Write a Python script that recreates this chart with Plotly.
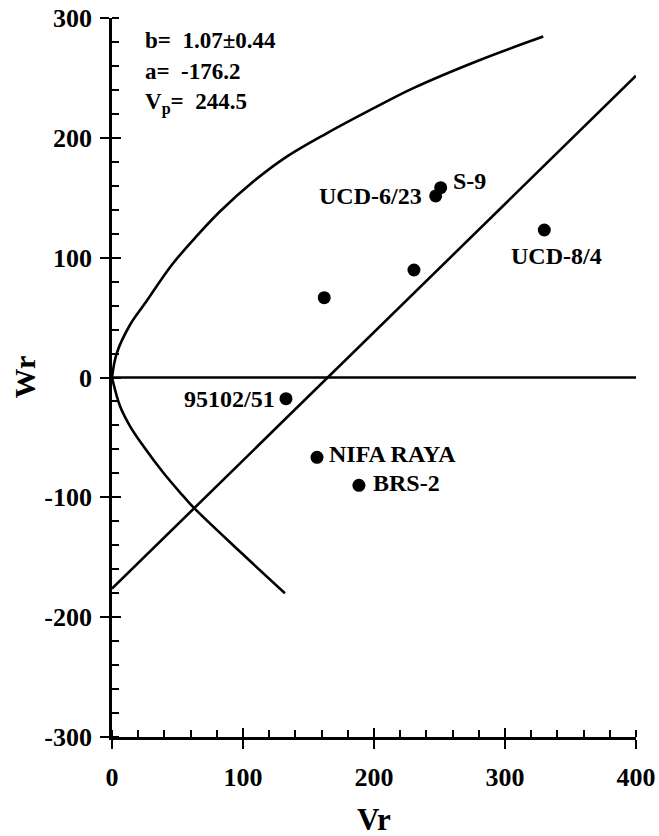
import plotly.graph_objects as go

# Genotype points (Vr, Wr)
vr = [132.8, 156.5, 188.5, 162.0, 230.5, 247.1, 250.9, 330.0]
wr = [-17.7, -66.6, -90.0, 66.6, 89.7, 151.5, 158.4, 123.1]
names = ["95102/51", "NIFA RAYA", "BRS-2", "", "", "UCD-6/23", "S-9", "UCD-8/4"]

# Limiting parabola
par_up_x = [0, 3.6, 13.7, 25.2, 45.6, 63.4, 82.4, 107.9, 133.4, 163.9, 204.6, 230.0, 280.9, 329.2]
par_up_y = [0, 20.2, 43.8, 61.9, 93.9, 116.5, 138.5, 163.5, 184.3, 203.8, 227.5, 241.5, 265.0, 284.5]
par_lo_x = [0, 6.1, 13.7, 23.9, 39.2, 53.2, 62.0, 96.4, 132.0]
par_lo_y = [0, -23.8, -40.5, -57.2, -79.5, -97.5, -108.2, -144.0, -180.0]

# Regression line Wr = a + b*Vr
b_coef = 1.07
a_coef = -176.2
reg_x = [0, 400]
reg_y = [a_coef + b_coef * v for v in reg_x]

zero_x = [0, 400]
zero_y = [0, 0]

x_ticks = [0, 100, 200, 300, 400]
x_ticktext = ["0", "100", "200", "300", "400"]
y_ticks = [-300, -200, -100, 0, 100, 200, 300]
y_ticktext = ["-300", "-200", "-100", "0", "100", "200", "300"]

FONT = "Liberation Serif"
LW = 2.6

fig = go.Figure()
for xs, ys in [(par_up_x, par_up_y), (par_lo_x, par_lo_y)]:
    fig.add_trace(go.Scatter(x=xs, y=ys, mode="lines",
                             line=dict(color="black", width=LW, shape="spline", smoothing=1.0),
                             showlegend=False))
fig.add_trace(go.Scatter(x=reg_x, y=reg_y, mode="lines",
                         line=dict(color="black", width=LW), showlegend=False))
fig.add_trace(go.Scatter(x=zero_x, y=zero_y, mode="lines",
                         line=dict(color="black", width=LW), showlegend=False))
fig.add_trace(go.Scatter(x=vr, y=wr, mode="markers",
                         marker=dict(color="black", size=13), showlegend=False))
# invisible trace for overlay axes
fig.add_trace(go.Scatter(x=[0], y=[0], xaxis="x2", yaxis="y2", mode="markers",
                         marker=dict(opacity=0), showlegend=False, hoverinfo="skip"))

# label placement offsets (pixels)
label_opts = {
    "95102/51": dict(xanchor="right", xshift=-9, yshift=0),
    "NIFA RAYA": dict(xanchor="left", xshift=10, yshift=3),
    "BRS-2": dict(xanchor="left", xshift=12, yshift=2),
    "UCD-6/23": dict(xanchor="right", xshift=-12, yshift=0),
    "S-9": dict(xanchor="left", xshift=10, yshift=7),
    "UCD-8/4": dict(xanchor="center", xshift=12, yshift=-26),
}
LBL = 24
for x, y, n in zip(vr, wr, names):
    if not n:
        continue
    o = label_opts[n]
    fig.add_annotation(x=x, y=y, text="<b>%s</b>" % n, showarrow=False,
                       xanchor=o["xanchor"], yanchor="middle",
                       xshift=o["xshift"], yshift=o["yshift"],
                       font=dict(family=FONT, size=LBL, color="black"))

stats = [("b=  %.2f\u00b10.44" % b_coef, 281),
         ("a=  %.1f" % a_coef, 255),
         ("V<sub>p</sub>=  244.5", 229)]
for t, yy in stats:
    fig.add_annotation(x=25, y=yy, text="<b>%s</b>" % t, showarrow=False,
                       xanchor="left", yanchor="middle", xshift=-2,
                       font=dict(family=FONT, size=23, color="black"))

# axis titles
fig.add_annotation(x=0.5, xref="paper", y=-300, yref="y", yshift=-82,
                   text="<b>Vr</b>", showarrow=False, xanchor="center", yanchor="middle",
                   borderpad=0,
                   font=dict(family=FONT, size=31, color="black"))
fig.add_annotation(x=0, xref="paper", y=0, yref="y", xshift=-88,
                   text="<b>Wr</b>", showarrow=False, textangle=-90,
                   xanchor="center", yanchor="middle",
                   font=dict(family=FONT, size=30, color="black"))

axis_common = dict(showgrid=False, zeroline=False, color="black", automargin=False)
TICKF = dict(family=FONT, size=26, color="black", weight="bold")
fig.update_layout(
    width=659, height=836,
    margin=dict(l=112, r=23, t=18, b=99),
    plot_bgcolor="white", paper_bgcolor="white",
    font=dict(family=FONT, color="black"),
    xaxis=dict(range=[0, 400], tickvals=x_ticks, ticktext=x_ticktext,
               ticks="outside", ticklen=9, tickwidth=2, tickcolor="black",
               ticklabelstandoff=6,
               showline=True, linewidth=LW, linecolor="black",
               tickfont=TICKF,
               minor=dict(dtick=20, ticks="inside", ticklen=7, tickwidth=2, tickcolor="black"),
               **axis_common),
    yaxis=dict(range=[-300, 300], tickvals=y_ticks, ticktext=y_ticktext,
               ticks="outside", ticklen=9, tickwidth=2, tickcolor="black",
               ticklabelstandoff=3,
               showline=True, linewidth=LW, linecolor="black",
               tickfont=TICKF,
               minor=dict(dtick=20, ticks="inside", ticklen=7, tickwidth=2, tickcolor="black"),
               **axis_common),
    xaxis2=dict(range=[0, 400], overlaying="x", anchor="y", side="bottom",
                tickvals=x_ticks, ticks="inside", ticklen=9,
                tickwidth=2, tickcolor="black", showticklabels=False,
                showline=False, **axis_common),
    yaxis2=dict(range=[-300, 300], overlaying="y", anchor="x", side="left",
                tickvals=y_ticks, ticks="inside", ticklen=9,
                tickwidth=2, tickcolor="black", showticklabels=False,
                showline=False, **axis_common),
)

fig.write_html("out.html", config={"displayModeBar": False},
               post_script="document.body.style.margin='0';document.body.style.overflow='hidden';")
